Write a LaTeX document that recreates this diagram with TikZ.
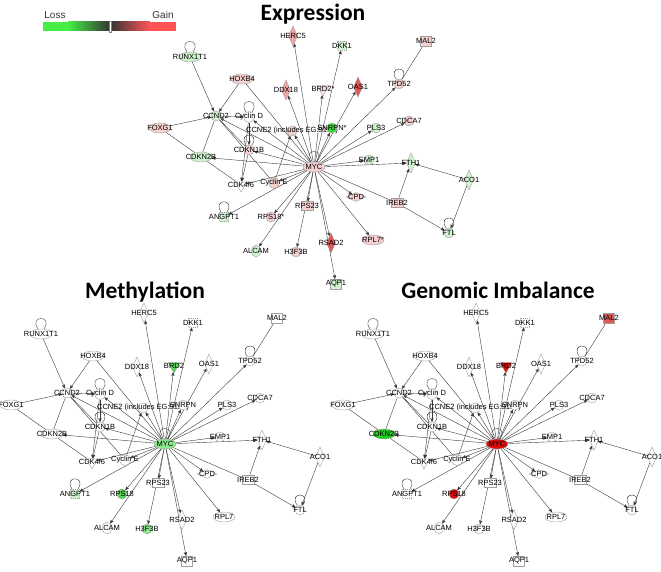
\documentclass[tikz,border=0pt]{standalone}
\usepackage{fontspec}
\setmainfont{Liberation Sans}
\newfontfamily\titlefont{Carlito}
\usetikzlibrary{arrows,shapes.geometric,backgrounds}

\definecolor{lossfull}{HTML}{44EE44}
\definecolor{gainfull}{HTML}{FF5555}
\definecolor{midbar}{HTML}{333333}
\definecolor{pinkl}{HTML}{F6CFCF}
\definecolor{pinkvl}{HTML}{FBE4E4}
\definecolor{pinkm}{HTML}{F0A6A6}
\definecolor{redm}{HTML}{E05858}
\definecolor{greenl}{HTML}{CFF3CF}
\definecolor{greenb}{HTML}{33DD33}
\definecolor{methg}{HTML}{8EE88E}
\definecolor{methd}{HTML}{55D455}
\definecolor{imbred}{HTML}{DD0A0A}
\definecolor{imbgreen}{HTML}{22CC22}
\definecolor{edgegray}{HTML}{3A3A3A}

\newcommand{\genefont}{\fontsize{7.5}{8}\selectfont}
\newcommand{\starmark}{}

% the MYC network, MYC at the origin
\newcommand{\network}{%
  \node[tr=MYC, c-myc/.try]                  (myc)    at (0,0)       {};
  \node[enzyme=HERC5, c-herc5/.try]          (herc5)  at (-21,-131)  {};
  \node[gf=DKK1, c-dkk1/.try]                (dkk1)   at (28,-121)   {};
  \node[transp=MAL2, c-mal2/.try]            (mal2)   at (112,-126)  {};
  \node[tr=RUNX1T1, c-runx/.try]             (runx)   at (-124,-110) {};
  \node[tr=HOXB4, c-hoxb4/.try]              (hoxb4)  at (-72,-88)   {};
  \node[enzyme=DDX18, c-ddx18/.try]          (ddx18)  at (-28,-77)   {};
  \node[kinase=BRD2\starmark, c-brd2/.try]   (brd2)   at (9,-78)     {};
  \node[enzyme=OAS1, c-oas1/.try]            (oas1)   at (44,-80)    {};
  \node[other=TPD52, c-tpd52/.try]           (tpd52)  at (85,-83)    {};
  \node[other=CCND2, c-ccnd2/.try]           (ccnd2)  at (-98,-51)   {};
  \node[group=Cyclin D, c-cycd/.try]         (cycd)   at (-65,-50)   {};
  \node[tr=FOXG1, c-foxg1/.try]              (foxg1)  at (-154,-39)  {};
  \node[other={CCNE2 (includes EG:9134)}, c-ccne2/.try] (ccne2) at (-22,-36) {};
  \node[other=SNRPN\starmark, c-snrpn/.try]  (snrpn)  at (18,-39)    {};
  \node[other=PLS3, c-pls3/.try]             (pls3)   at (62,-39)    {};
  \node[other=CDCA7, c-cdca7/.try]           (cdca7)  at (95,-46)    {};
  \node[other=CDKN1B, c-cdkn1b/.try]         (cdkn1b) at (-65,-17)   {};
  \node[tr=CDKN2B, c-cdkn2b/.try]            (cdkn2b) at (-113,-10)  {};
  \node[other=EMP1, c-emp1/.try]             (emp1)   at (55,-7)     {};
  \node[enzyme=FTH1, c-fth1/.try]            (fth1)   at (97,-4)     {};
  \node[enzyme=ACO1, c-aco1/.try]            (aco1)   at (155,13)    {};
  \node[kinase=CDK4/6, c-cdk46/.try]         (cdk46)  at (-73,18)    {};
  \node[group=Cyclin E, c-cyce/.try]         (cyce)   at (-40,16)    {};
  \node[peptidase=CPD, c-cpd/.try]           (cpd)    at (42,30)     {};
  \node[transl=IREB2, c-ireb2/.try]          (ireb2)  at (83,36)     {};
  \node[gf=ANGPT1, c-angpt1/.try]            (angpt1) at (-90,50)    {};
  \node[other=RPS18\starmark, c-rps18/.try]  (rps18)  at (-43,50)    {};
  \node[transl=RPS23, c-rps23/.try]          (rps23)  at (-7,39)     {};
  \node[other=FTL, c-ftl/.try]               (ftl)    at (135,66)    {};
  \node[enzyme=RSAD2, c-rsad2/.try]          (rsad2)  at (17,76)     {};
  \node[tr=RPL7\starmark, c-rpl7/.try]       (rpl7)   at (59,73)     {};
  \node[receptor=ALCAM, c-alcam/.try]        (alcam)  at (-58,84)    {};
  \node[other=H3F3B, c-h3f3b/.try]           (h3f3b)  at (-18,85)    {};
  \node[transp=AQP1, c-aqp1/.try]            (aqp1)   at (22,117)    {};
  \begin{pgfonlayer}{background}
    \path[act] (myc) edge (herc5) edge (dkk1) edge (ddx18) edge (brd2)
          edge (oas1) edge (tpd52) edge (snrpn) edge (pls3) edge (cdca7)
          edge (ccne2) edge (cycd) edge (ccnd2) edge (cdkn1b) edge (cdkn2b)
          edge (cdk46) edge (cyce) edge (emp1) edge (fth1) edge (cpd)
          edge (rpl7) edge (rsad2) edge (aqp1) edge (rps23) edge (h3f3b)
          edge (rps18) edge (alcam) edge (angpt1);
    \path[act] (hoxb4) edge (ccnd2)
          (runx) edge (ccnd2)
          (foxg1) edge (ccnd2)
          (ccnd2) edge (cycd)
          (cycd) edge (cdkn1b) edge (cdk46)
          (cdkn1b) edge (cdk46)
          (cyce) edge (ccne2)
          (ireb2) edge (fth1) edge (ftl)
          (aco1) edge (fth1) edge (ftl);
    \path[link] (hoxb4) edge (myc)
          (myc) edge (ireb2)
          (foxg1) edge (cdkn2b)
          (ccnd2) edge (cdkn2b) edge (cyce) edge (cdkn1b)
          (cdkn2b) edge (cdk46)
          (tpd52) edge (mal2);
    % self loops
    \foreach \g in {runx,cycd,cdkn1b,myc,tpd52,ftl,angpt1}
      \draw[selfloop] (\g.120) .. controls +(-10,-14) and +(10,-14) .. (\g.60);
  \end{pgfonlayer}
}

\begin{document}
\begin{tikzpicture}[x=1pt, y=-1pt, >=stealth',
    every edge/.style={draw=edgegray, line width=0.4pt},
    act/.style={->}, link/.style={-},
    selfloop/.style={draw=edgegray, line width=0.4pt},
    genelabel/.style={font=\genefont, inner sep=0pt, text=black},
    gene/.style={draw=gray!75, fill=white, line width=0.4pt, inner sep=0pt,
      label={[genelabel]center:{#1}}},
    tr/.style={gene={#1}, ellipse, minimum width=22pt, minimum height=10pt},
    other/.style={gene={#1}, circle, minimum size=10pt},
    group/.style={gene={#1}, circle, minimum size=11pt},
    enzyme/.style={gene={#1}, diamond, minimum width=9pt, minimum height=20pt},
    peptidase/.style={gene={#1}, diamond, minimum width=20pt, minimum height=9pt},
    gf/.style={gene={#1}, rectangle, dash pattern=on 1pt off 1pt, minimum size=9pt},
    kinase/.style={gene={#1}, regular polygon, regular polygon sides=3,
      shape border rotate=180, minimum size=14pt},
    transl/.style={gene={#1}, rectangle, minimum width=12pt, minimum height=9pt},
    transp/.style={gene={#1}, rectangle, minimum width=11pt, minimum height=10pt},
    receptor/.style={gene={#1}, ellipse, minimum width=9pt, minimum height=12pt},
    paneltitle/.style={font=\titlefont\bfseries\fontsize{23.5}{26}\selectfont, anchor=base}]
  \useasboundingbox (0,0) rectangle (661,572);

  % colour key
  \fill[lossfull] (43,22) rectangle (68,31);
  \shade[left color=lossfull, right color=midbar] (68,22) rectangle (110,31);
  \shade[left color=midbar, right color=gainfull] (110,22) rectangle (150,31);
  \fill[gainfull] (150,22) rectangle (176,31);
  \draw[gray, fill=white, line width=0.3pt] (109,21) rectangle (111.5,32);
  \node[font=\fontsize{10}{11}\selectfont, text=black!80] (loss) at (55,15) {Loss};
  \node[font=\fontsize{10}{11}\selectfont, text=black!80] (gain) at (163,15) {Gain};

  % expression
  \node[paneltitle] (exptitle) at (313,21) {Expression};
  \begin{scope}[shift={(314,167)}, name prefix=ex-,
      c-runx/.style={fill=greenl}, c-hoxb4/.style={fill=pinkl},
      c-herc5/.style={fill=pinkm}, c-dkk1/.style={fill=greenl},
      c-mal2/.style={fill=pinkl}, c-ddx18/.style={fill=pinkm},
      c-brd2/.style={fill=pinkvl}, c-oas1/.style={fill=redm},
      c-tpd52/.style={fill=pinkl}, c-ccnd2/.style={fill=greenl},
      c-foxg1/.style={fill=pinkl}, c-ccne2/.style={fill=pinkl},
      c-snrpn/.style={fill=greenb}, c-pls3/.style={fill=greenl},
      c-cdca7/.style={fill=pinkl}, c-cdkn1b/.style={fill=pinkl},
      c-cdkn2b/.style={fill=greenl}, c-myc/.style={fill=pinkl},
      c-emp1/.style={fill=greenl}, c-fth1/.style={fill=greenl},
      c-aco1/.style={fill=greenl}, c-cyce/.style={fill=pinkl},
      c-cpd/.style={fill=pinkl}, c-ireb2/.style={fill=pinkl},
      c-ftl/.style={fill=greenl}, c-angpt1/.style={fill=greenl},
      c-rps18/.style={fill=pinkl}, c-rps23/.style={fill=pinkl},
      c-rpl7/.style={fill=pinkl}, c-rsad2/.style={fill=redm},
      c-alcam/.style={fill=greenl}, c-h3f3b/.style={fill=pinkl},
      c-aqp1/.style={fill=greenl}]
    \def\starmark{*}
    \network
  \end{scope}

  % methylation
  \node[paneltitle] (methtitle) at (145,298) {Methylation};
  \begin{scope}[shift={(165,444)}, name prefix=me-,
      c-brd2/.style={fill=methd}, c-myc/.style={fill=methg},
      c-rps18/.style={fill=methd}, c-angpt1/.style={fill=greenl},
      c-h3f3b/.style={fill=methg}]
    \network
  \end{scope}

  % genomic imbalance
  \node[paneltitle] (imbtitle) at (498,298) {Genomic Imbalance};
  \begin{scope}[shift={(497,444)}, name prefix=gi-,
      c-myc/.style={fill=imbred}, c-cdkn2b/.style={fill=imbgreen},
      c-rps18/.style={fill=imbred}, c-brd2/.style={fill=imbred},
      c-mal2/.style={fill=redm}]
    \network
  \end{scope}
\end{tikzpicture}
\end{document}
